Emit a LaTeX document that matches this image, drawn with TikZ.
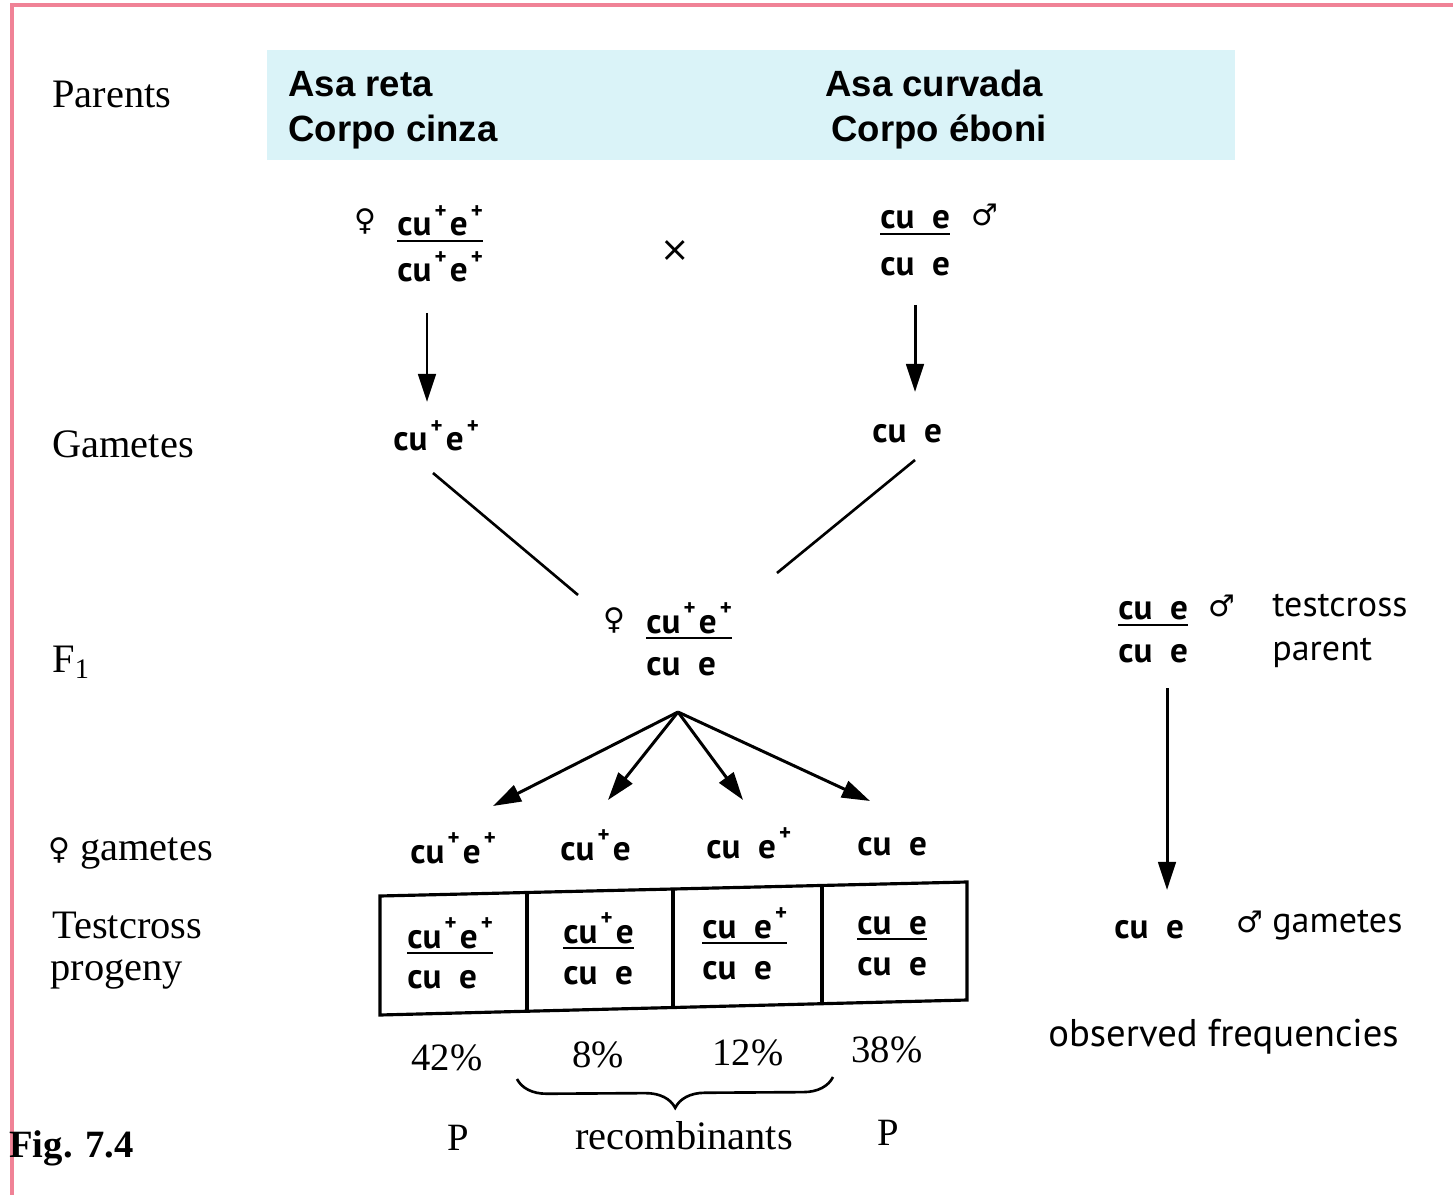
\documentclass[tikz,border=0pt]{standalone}
\usepackage{fontspec}
\setmainfont{Liberation Serif}
\newfontfamily\genofont{PT Sans}
\newfontfamily\boxfont{Liberation Sans}
\newfontfamily\symfont{DejaVu Sans}
\usetikzlibrary{arrows.meta,decorations.pathreplacing,calc}

\definecolor{pinkline}{RGB}{240,130,150}
\definecolor{paleblue}{RGB}{218,243,248}

% wild-type mark and the gap between the two loci
\newcommand\pl{\hspace{0.09em}\raisebox{0.5em}{\fontsize{13}{13}\selectfont +}\hspace{0.09em}}
\newcommand\gp{\hspace{0.5em}}

\begin{document}
\begin{tikzpicture}[x=0.02cm,y=-0.02cm,
  gen/.style={font=\genofont\bfseries\fontsize{20}{24}\selectfont, anchor=base west, inner sep=0pt},
  lab/.style={font=\fontsize{23}{27}\selectfont, anchor=base west, inner sep=0pt},
  pct/.style={font=\fontsize{22}{26}\selectfont, anchor=base, inner sep=0pt},
  side/.style={font=\genofont\fontsize{20.5}{24}\selectfont, anchor=base west, inner sep=0pt},
  boxtxt/.style={font=\boxfont\bfseries\fontsize{20.8}{25}\selectfont, anchor=base west, inner sep=0pt},
  sym/.style={font=\symfont\fontsize{17}{20}\selectfont, inner sep=0pt},
  uline/.style={line width=1.5pt},
  arr/.style={line width=1.7pt, -{Triangle[length=16pt,width=10pt]}},
  link/.style={line width=1.5pt},
]
\useasboundingbox (0,0) rectangle (1453,1195);
\fill[white] (0,0) rectangle (1453,1195);

% page frame
\draw[pinkline, line width=2pt] (12,1195) -- (12,5) -- (1453,5);

% phenotype banner
\fill[paleblue] (267,50) rectangle (1235,160);
\node[boxtxt] (ph1a) at (288,97) {Asa reta};
\node[boxtxt] (ph1b) at (288,142) {Corpo cinza};
\node[boxtxt] (ph2a) at (825,97) {Asa curvada};
\node[boxtxt] (ph2b) at (831,142) {Corpo éboni};

% row labels
\node[lab] (lparents) at (52,108) {Parents};
\node[lab] (lgam) at (52,458) {Gametes};
\node[lab] (lf1) at (52,672) {F\textsubscript{1}};
\node[sym] (lfem) at (59,850) {♀};
\node[lab] (lfgam) at (80,860) {gametes};
\node[lab] (ltc1) at (52,938) {Testcross};
\node[lab] (ltc2) at (50,980) {progeny};
\node[font=\bfseries\fontsize{22}{26}\selectfont, anchor=base west, inner sep=0pt] (fig) at (9,1157) {Fig. 7.4};

% parents
\node[sym] (pfem) at (365,221) {♀};
\node[gen] (p1t) at (397,236) {cu\pl e\pl};
\node[gen] (p1b) at (397,282) {cu\pl e\pl};
\draw[uline] ($(p1t.base west)+(0,5)$) -- ($(p1t.base east)+(0,5)$);
\node[font=\symfont\fontsize{20}{22}\selectfont, inner sep=0pt] (cross) at (675,251) {×};
\node[gen] (p2t) at (880,229) {cu\gp e};
\node[gen] (p2b) at (880,276) {cu\gp e};
\draw[uline] ($(p2t.base west)+(0,5)$) -- ($(p2t.base east)+(0,5)$);
\node[sym] (pmal) at (985,215) {♂};

% gametes of the parents
\node[gen] (g1) at (393,451) {cu\pl e\pl};
\node[gen] (g2) at (872,443) {cu\gp e};
\coordinate (a1s) at (427,313);
\coordinate (a1e) at (427,402);
\coordinate (a2s) at (915,305);
\coordinate (a2e) at (915,392);
\draw[arr] (a1s) -- (a1e);
\draw[arr] (a2s) -- (a2e);

% F1 female
\node[sym] (ffem) at (614,620) {♀};
\node[gen] (f1t) at (646,633) {cu\pl e\pl};
\node[gen] (f1b) at (646,675) {cu\gp e};
\draw[uline] ($(f1t.base west)+(0,5)$) -- ($(f1t.base east)+(0,5)$);
\coordinate (j1s) at (433,473);
\coordinate (j1e) at (578,595);
\coordinate (j2s) at (915,460);
\coordinate (j2e) at (777,573);
\draw[link] (j1s) -- (j1e);
\draw[link] (j2s) -- (j2e);

% female gametes of F1
\coordinate (fan) at (678,712);
\coordinate (t1) at (493,806);
\coordinate (t2) at (608,800);
\coordinate (t3) at (743,800);
\coordinate (t4) at (870,801);
\foreach \t in {t1,t2,t3,t4} \draw[arr] (fan) -- (\t);
\node[gen] (fg1) at (410,863) {cu\pl e\pl};
\node[gen] (fg2) at (560,860) {cu\pl e};
\node[gen] (fg3) at (706,858) {cu\gp e\pl};
\node[gen] (fg4) at (857,855) {cu\gp e};

% testcross progeny table
\draw[line width=1.8pt] (380,896) -- (967,882) -- (967,1000) -- (380,1015) -- cycle;
\draw[line width=1.8pt] (527,893) -- (527,1012);
\draw[line width=1.8pt] (673,890) -- (673,1008);
\draw[line width=1.8pt] (822,886) -- (822,1004);
\node[gen] (c1t) at (407,948) {cu\pl e\pl};
\node[gen] (c1b) at (407,988) {cu\gp e};
\node[gen] (c2t) at (563,943) {cu\pl e};
\node[gen] (c2b) at (563,984) {cu\gp e};
\node[gen] (c3t) at (702,938) {cu\gp e\pl};
\node[gen] (c3b) at (702,979) {cu\gp e};
\node[gen] (c4t) at (857,934) {cu\gp e};
\node[gen] (c4b) at (857,975) {cu\gp e};
\foreach \c in {c1t,c2t,c3t,c4t}
  \draw[uline] ($(\c.base west)+(0,5)$) -- ($(\c.base east)+(0,5)$);

% frequencies
\node[pct] (q1) at (447,1070) {42\%};
\node[pct] (q2) at (598,1067) {8\%};
\node[pct] (q3) at (748,1065) {12\%};
\node[pct] (q4) at (887,1062) {38\%};
\draw[line width=1.5pt, decorate, decoration={brace, mirror, amplitude=17pt}] (517,1079) -- (833,1077);
\node[pct] (pp1) at (458,1150) {P};
\node[pct, font=\fontsize{23}{27}\selectfont] (rec) at (684,1149) {recombinants};
\node[pct] (pp2) at (888,1145) {P};

% testcross parent
\node[gen] (tpt) at (1118,620) {cu\gp e};
\node[gen] (tpb) at (1118,662) {cu\gp e};
\draw[uline] ($(tpt.base west)+(0,5)$) -- ($(tpt.base east)+(0,5)$);
\node[sym] (tmal) at (1222,606) {♂};
\node[side] (tcl1) at (1272,617) {testcross};
\node[side] (tcl2) at (1272,660) {parent};
\coordinate (m1s) at (1167,688);
\coordinate (m1e) at (1167,890);
\draw[arr] (m1s) -- (m1e);
\node[gen] (mg) at (1114,938) {cu\gp e};
\node[sym] (mgs) at (1250,922) {♂};
\node[side] (mgl) at (1272,932) {gametes};
\node[side, font=\genofont\fontsize{22}{26}\selectfont] (obs) at (1048,1046) {observed frequencies};
\end{tikzpicture}
\end{document}
